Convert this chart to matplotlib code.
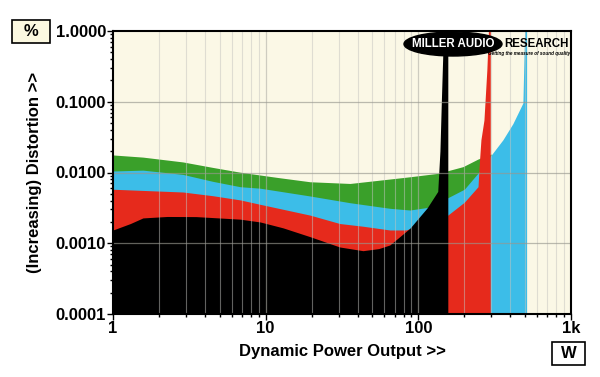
import numpy as np
import matplotlib
matplotlib.use('Agg')
import matplotlib.pyplot as plt
from matplotlib.patches import Ellipse, Rectangle

plt.rcParams['font.family'] = ['Liberation Sans', 'DejaVu Sans']

# THD (%) vs dynamic power (W) for four load impedances
green_w = [1, 1.57, 2.87, 4.5, 6.8, 12, 19.5, 35.7, 56, 88, 138, 156, 196, 246, 299, 301]
green_d = [0.0177, 0.0165, 0.0141, 0.0118, 0.0101, 0.0085, 0.0074, 0.0070, 0.0078, 0.0087, 0.0098, 0.0106, 0.0121, 0.0155, 0.0182, 0.0182]

blue_w = [1, 1.57, 2.87, 4.5, 6.8, 9.2, 19.5, 35.7, 65, 88, 114, 156, 200, 246, 290, 358, 416, 484, 499, 512]
blue_d = [0.0105, 0.0108, 0.0094, 0.0075, 0.0063, 0.0060, 0.00466, 0.00374, 0.00312, 0.00295, 0.0032, 0.0044, 0.0058, 0.0098, 0.016, 0.029, 0.049, 0.096, 1.5, 1.5]

red_w = [1, 2.87, 4.5, 6.8, 9.2, 19.5, 30.6, 43.4, 65, 83, 110, 156, 200, 246, 250, 257, 269, 281, 290, 296]
red_d = [0.0058, 0.0053, 0.0047, 0.0041, 0.00355, 0.0025, 0.0019, 0.00174, 0.00154, 0.00154, 0.0019, 0.0025, 0.0038, 0.0063, 0.012, 0.029, 0.055, 0.28, 1.5, 1.5]

black_w = [1, 1.3, 1.57, 2.26, 3.5, 6.8, 9.2, 13, 19.5, 30.6, 43.4, 55, 65, 88, 114, 134, 138.5, 141.6, 144.9, 147, 156]
black_d = [0.00154, 0.0019, 0.00228, 0.00239, 0.00238, 0.00219, 0.0020, 0.00165, 0.00124, 0.000885, 0.000785, 0.00084, 0.000945, 0.00163, 0.00315, 0.0054, 0.02, 0.106, 0.54, 1.5, 1.5]

y_ticks = [0.0001, 0.001, 0.01, 0.1, 1.0]
y_labels = ['0.0001', '0.0010', '0.0100', '0.1000', '1.0000']
x_ticks = [1, 10, 100, 1000]
x_labels = ['1', '10', '100', '1k']

W, H = 600, 377
fig = plt.figure(figsize=(6, 3.77), dpi=100)
ax = fig.add_axes([113/W, 1 - 314/H, 458/W, 283/H])
ax.set_facecolor('#fbf8e6')

series = [(green_w, green_d, '#3aa02a'),
          (blue_w, blue_d, '#3cbde8'),
          (red_w, red_d, '#e62a1c'),
          (black_w, black_d, '#000000')]
for w, d, c in series:
    ax.fill_between(w, 1e-4, d, color=c, linewidth=0, zorder=2)

ax.set_xscale('log')
ax.set_yscale('log')
ax.set_xlim(1, 1000)
ax.set_ylim(1e-4, 1.0)

# grid on top of the fills
for dec in [1, 10, 100]:
    for m in range(2, 10):
        ax.axvline(dec * m, color='#c4c4c0', lw=0.8, alpha=0.5, zorder=3)
for xv in [10, 100]:
    ax.axvline(xv, color='#b0b0a8', lw=0.9, alpha=0.6, zorder=3)
for yv in [0.001, 0.01, 0.1]:
    ax.axhline(yv, color='#98988f', lw=0.9, alpha=0.65, zorder=3)

ax.set_xticks(x_ticks)
ax.set_xticklabels(x_labels)
ax.set_yticks(y_ticks)
ax.set_yticklabels(y_labels)
ax.tick_params(which='major', length=4, width=1, labelsize=12, pad=1)
ax.tick_params(which='minor', length=2, width=1)
for lab in ax.get_xticklabels() + ax.get_yticklabels():
    lab.set_fontweight('bold')
for sp in ax.spines.values():
    sp.set_linewidth(1.5)
    sp.set_zorder(5)

ax.set_xlabel('Dynamic Power Output >>', fontsize=12, fontweight='bold', labelpad=6)
ax.set_ylabel('(Increasing) Distortion >>', fontsize=12, fontweight='bold', labelpad=10)

# unit boxes
fig.add_artist(Rectangle((12/W, 1 - 43/H), 38/W, 23/H, transform=fig.transFigure,
                         fc='#fbf8e0', ec='black', lw=1.2))
fig.text(31/W, 1 - 31.5/H, '%', fontsize=12, fontweight='bold', ha='center', va='center')
fig.add_artist(Rectangle((552/W, 1 - 365/H), 33/W, 23/H, transform=fig.transFigure,
                         fc='white', ec='black', lw=1.2))
fig.text(568.5/W, 1 - 353.5/H, 'W', fontsize=12, fontweight='bold', ha='center', va='center')

# logo
fig.add_artist(Ellipse((453/W, 1 - 44/H), 98/W, 24/H, transform=fig.transFigure,
                       color='black', zorder=10))
fig.text(453/W, 1 - 44/H, 'MILLER AUDIO', color='white', fontsize=8.3, fontweight='bold',
         ha='center', va='center', zorder=11)
fig.text(536/W, 1 - 44/H, 'RESEARCH', color='black', fontsize=8.3, fontweight='bold',
         ha='center', va='center', zorder=11)
fig.text(529/W, 1 - 53.5/H, 'Getting the measure of sound quality', color='black',
         fontsize=3.3, fontweight='bold', style='italic', ha='center', va='center', zorder=11)

fig.savefig('out.png', dpi=100)
